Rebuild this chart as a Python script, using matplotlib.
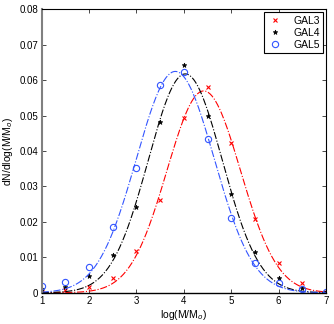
import numpy as np
import matplotlib
matplotlib.use("Agg")
import matplotlib.pyplot as plt

x = [1, 1.5, 2, 2.5, 3, 3.5, 4, 4.5, 5, 5.5, 6, 6.5, 7]
gal3 = [0.0003, 0.0008, 0.0017, 0.0042, 0.0119, 0.0262, 0.0492, 0.0580, 0.0422, 0.0209, 0.0083, 0.0028, 0.0002]
gal4 = [0.0010, 0.0017, 0.0047, 0.0106, 0.0241, 0.0481, 0.0643, 0.0498, 0.0279, 0.0115, 0.0042, 0.0012, 0.0001]
gal5 = [0.0019, 0.0030, 0.0073, 0.0186, 0.0351, 0.0586, 0.0624, 0.0433, 0.0210, 0.0085, 0.0028, 0.0010, 0.0001]
labels = ["GAL3", "GAL4", "GAL5"]
colors = ["#ff0000", "#000000", "#3355ff"]
markers = ["x", "*", "o"]

plt.rcParams["font.family"] = ["Liberation Sans", "DejaVu Sans"]
plt.rcParams["font.size"] = 7

def gauss_fit(xs, ys):
    xs = np.asarray(xs, float); ys = np.asarray(ys, float)
    best = None
    for c in np.linspace(3.0, 5.0, 201):
        for s in np.linspace(0.4, 1.2, 161):
            g = np.exp(-(xs - c) ** 2 / (2 * s ** 2))
            a = np.dot(g, ys) / np.dot(g, g)
            r = np.sum((ys - a * g) ** 2)
            if best is None or r < best[0]:
                best = (r, a, c, s)
    return best[1:]

fig = plt.figure(figsize=(3.34, 3.24), dpi=100)
ax = fig.add_axes([0.1249, 0.0966, 0.851, 0.8747])

xf = np.linspace(1, 7, 300)
for ys, lab, col, mk in zip([gal3, gal4, gal5], labels, colors, markers):
    a, c, s = gauss_fit(x, ys)
    ax.plot(xf, a * np.exp(-(xf - c) ** 2 / (2 * s ** 2)), linestyle="-.", color=col, lw=0.8)
    if mk == "o":
        ax.plot(x, ys, linestyle="none", marker=mk, mfc="none", mec=col, ms=4.5, mew=0.8, label=lab)
    elif mk == "x":
        ax.plot(x, ys, linestyle="none", marker=mk, color=col, ms=3.2, mew=0.8, label=lab)
    else:
        ax.plot(x, ys, linestyle="none", marker=mk, color=col, ms=3.5, mew=0.5, label=lab)

ax.set_xlim(1, 7)
ax.set_ylim(0, 0.08)
ax.set_xticks([1, 2, 3, 4, 5, 6, 7])
ax.set_yticks([0, 0.01, 0.02, 0.03, 0.04, 0.05, 0.06, 0.07, 0.08])
ax.set_yticklabels(["0", "0.01", "0.02", "0.03", "0.04", "0.05", "0.06", "0.07", "0.08"])
ax.tick_params(direction="in", top=True, right=True, length=3, width=0.5, pad=2.5)
for sp in ["top", "right"]:
    ax.spines[sp].set_linewidth(0.8)
ax.spines["left"].set_color("#808080")
ax.spines["left"].set_linewidth(1.5)
ax.spines["bottom"].set_linewidth(1.0)
ax.set_xlabel("log(M/M$_o$)", labelpad=1, fontsize=7.5)
ax.set_ylabel("dN/dlog(M/M$_o$)", labelpad=3, fontsize=7.5)
leg = ax.legend(loc="upper right", fancybox=False, edgecolor="black", framealpha=1,
                borderaxespad=0.3, handletextpad=0.9, handlelength=1.6, borderpad=0.3,
                labelspacing=0.2, fontsize=7.5)
leg.get_frame().set_linewidth(0.8)
fig.savefig("out.png", dpi=100)
